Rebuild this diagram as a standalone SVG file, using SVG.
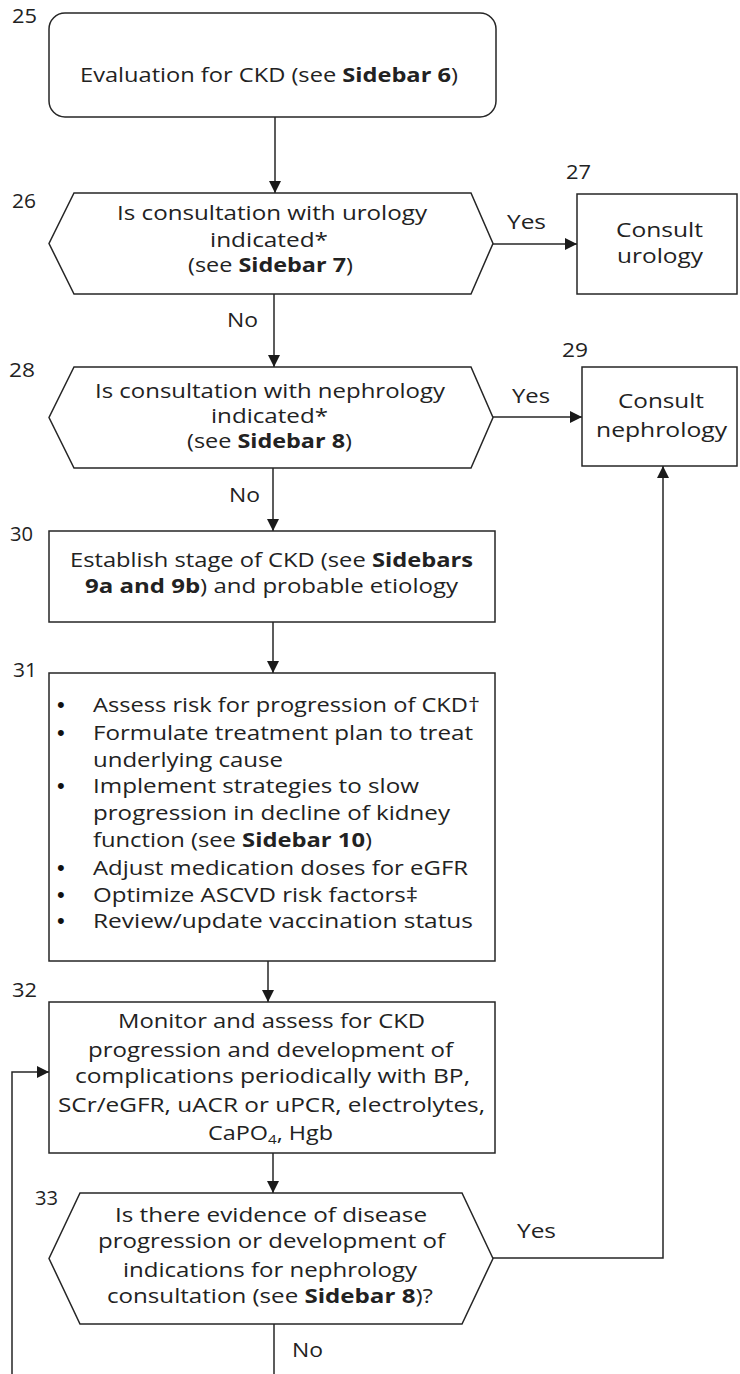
<svg xmlns="http://www.w3.org/2000/svg" width="740" height="1374" viewBox="0 0 740 1374">
<style>
.shape{fill:#fff;stroke:#262626;stroke-width:1.5}
.conn{fill:none;stroke:#262626;stroke-width:1.5}
.t{font-family:"Open Sans","Liberation Sans",sans-serif;font-size:20px;fill:#222}
.b{font-weight:bold}
.bul{font-family:"Liberation Sans",sans-serif;font-size:22px;fill:#111}
</style>
<defs>
<marker id="ah" viewBox="0 0 12 12" markerWidth="12" markerHeight="12" refX="12" refY="6" orient="auto" markerUnits="userSpaceOnUse">
<path d="M0,0 L12,6 L0,12 z" fill="#1a1a1a"/>
</marker>
</defs>
<rect width="740" height="1374" fill="#fff"/>

<g id="connectors">
<line class="conn" x1="275" y1="117" x2="275" y2="193" marker-end="url(#ah)"/>
<line class="conn" x1="274" y1="294" x2="274" y2="367" marker-end="url(#ah)"/>
<line class="conn" x1="493" y1="244" x2="577" y2="244" marker-end="url(#ah)"/>
<line class="conn" x1="493" y1="417" x2="582" y2="417" marker-end="url(#ah)"/>
<line class="conn" x1="273" y1="468" x2="273" y2="531" marker-end="url(#ah)"/>
<line class="conn" x1="273" y1="622" x2="273" y2="673" marker-end="url(#ah)"/>
<line class="conn" x1="268" y1="961" x2="268" y2="1002" marker-end="url(#ah)"/>
<line class="conn" x1="273" y1="1153" x2="273" y2="1193" marker-end="url(#ah)"/>
<polyline class="conn" points="493,1258 663,1258 663,466" marker-end="url(#ah)"/>
<line class="conn" x1="274" y1="1324" x2="274" y2="1374"/>
<polyline class="conn" points="12,1374 12,1072 49,1072" marker-end="url(#ah)"/>
<text class="t" x="507" y="229" textLength="39" lengthAdjust="spacingAndGlyphs">Yes</text>
<text class="t" x="512" y="403" textLength="38" lengthAdjust="spacingAndGlyphs">Yes</text>
<text class="t" x="517" y="1238" textLength="39" lengthAdjust="spacingAndGlyphs">Yes</text>
<text class="t" x="227" y="327" textLength="31" lengthAdjust="spacingAndGlyphs">No</text>
<text class="t" x="229" y="502" textLength="31" lengthAdjust="spacingAndGlyphs">No</text>
<text class="t" x="292" y="1357" textLength="31" lengthAdjust="spacingAndGlyphs">No</text>
</g>

<g id="node25">
<rect class="shape" x="49" y="13" width="447" height="104" rx="16" ry="16"/>
<text class="t" x="12" y="23" textLength="25" lengthAdjust="spacingAndGlyphs">25</text>
<text class="t" x="80" y="82" textLength="378" lengthAdjust="spacingAndGlyphs">Evaluation for CKD (see <tspan class="b">Sidebar 6</tspan>)</text>
</g>

<g id="node26">
<polygon class="shape" points="74,193 471,193 493,243.5 471,294 74,294 49,243.5"/>
<text class="t" x="12" y="208" textLength="24" lengthAdjust="spacingAndGlyphs">26</text>
<text class="t" x="117" y="220" textLength="310" lengthAdjust="spacingAndGlyphs">Is consultation with urology</text>
<text class="t" x="210" y="247" textLength="118" lengthAdjust="spacingAndGlyphs">indicated*</text>
<text class="t" x="188" y="272" textLength="165" lengthAdjust="spacingAndGlyphs">(see <tspan class="b">Sidebar 7</tspan>)</text>
</g>

<g id="node27">
<rect class="shape" x="577" y="194" width="160" height="100"/>
<text class="t" x="566" y="179" textLength="25" lengthAdjust="spacingAndGlyphs">27</text>
<text class="t" x="616" y="237" textLength="87" lengthAdjust="spacingAndGlyphs">Consult</text>
<text class="t" x="617" y="263" textLength="86" lengthAdjust="spacingAndGlyphs">urology</text>
</g>

<g id="node28">
<polygon class="shape" points="74,367 471,367 493,417.5 471,468 74,468 49,417.5"/>
<text class="t" x="9" y="377" textLength="26" lengthAdjust="spacingAndGlyphs">28</text>
<text class="t" x="95" y="398" textLength="350" lengthAdjust="spacingAndGlyphs">Is consultation with nephrology</text>
<text class="t" x="211" y="423" textLength="117" lengthAdjust="spacingAndGlyphs">indicated*</text>
<text class="t" x="187" y="448" textLength="165" lengthAdjust="spacingAndGlyphs">(see <tspan class="b">Sidebar 8</tspan>)</text>
</g>

<g id="node29">
<rect class="shape" x="582" y="367" width="155" height="99"/>
<text class="t" x="562" y="357" textLength="26" lengthAdjust="spacingAndGlyphs">29</text>
<text class="t" x="618" y="408" textLength="86" lengthAdjust="spacingAndGlyphs">Consult</text>
<text class="t" x="596" y="437" textLength="131" lengthAdjust="spacingAndGlyphs">nephrology</text>
</g>

<g id="node30">
<rect class="shape" x="49" y="531" width="446" height="91"/>
<text class="t" x="10" y="541" textLength="23" lengthAdjust="spacingAndGlyphs">30</text>
<text class="t" x="70" y="567" textLength="403" lengthAdjust="spacingAndGlyphs">Establish stage of CKD (see <tspan class="b">Sidebars</tspan></text>
<text class="t" x="85" y="593" textLength="373" lengthAdjust="spacingAndGlyphs"><tspan class="b">9a and 9b</tspan>) and probable etiology</text>
</g>

<g id="node31">
<rect class="shape" x="49" y="673" width="446" height="288"/>
<text class="t" x="13" y="677" textLength="24" lengthAdjust="spacingAndGlyphs">31</text>
<text class="bul" x="57" y="712">•</text>
<text class="t" x="93" y="712" textLength="387" lengthAdjust="spacingAndGlyphs">Assess risk for progression of CKD†</text>
<text class="bul" x="57" y="740">•</text>
<text class="t" x="93" y="740" textLength="380" lengthAdjust="spacingAndGlyphs">Formulate treatment plan to treat</text>
<text class="t" x="93" y="767" textLength="190" lengthAdjust="spacingAndGlyphs">underlying cause</text>
<text class="bul" x="57" y="793">•</text>
<text class="t" x="93" y="793" textLength="326" lengthAdjust="spacingAndGlyphs">Implement strategies to slow</text>
<text class="t" x="93" y="820" textLength="357" lengthAdjust="spacingAndGlyphs">progression in decline of kidney</text>
<text class="t" x="93" y="847" textLength="279" lengthAdjust="spacingAndGlyphs">function (see <tspan class="b">Sidebar 10</tspan>)</text>
<text class="bul" x="57" y="875">•</text>
<text class="t" x="93" y="875" textLength="375" lengthAdjust="spacingAndGlyphs">Adjust medication doses for eGFR</text>
<text class="bul" x="57" y="902">•</text>
<text class="t" x="93" y="902" textLength="325" lengthAdjust="spacingAndGlyphs">Optimize ASCVD risk factors‡</text>
<text class="bul" x="57" y="928">•</text>
<text class="t" x="93" y="928" textLength="380" lengthAdjust="spacingAndGlyphs">Review/update vaccination status</text>
</g>

<g id="node32">
<rect class="shape" x="49" y="1002" width="446" height="151"/>
<text class="t" x="12" y="997" textLength="25" lengthAdjust="spacingAndGlyphs">32</text>
<text class="t" x="118" y="1028" textLength="307" lengthAdjust="spacingAndGlyphs">Monitor and assess for CKD</text>
<text class="t" x="88" y="1057" textLength="365" lengthAdjust="spacingAndGlyphs">progression and development of</text>
<text class="t" x="75" y="1083" textLength="395" lengthAdjust="spacingAndGlyphs">complications periodically with BP,</text>
<text class="t" x="58" y="1112" textLength="427" lengthAdjust="spacingAndGlyphs">SCr/eGFR, uACR or uPCR, electrolytes,</text>
<text class="t" x="208" y="1140" textLength="125" lengthAdjust="spacingAndGlyphs">CaPO<tspan font-size="13" dy="4">4</tspan><tspan dy="-4">, Hgb</tspan></text>
</g>

<g id="node33">
<polygon class="shape" points="80,1193 462,1193 493,1258.5 462,1324 80,1324 49,1258.5"/>
<text class="t" x="35" y="1205" textLength="23" lengthAdjust="spacingAndGlyphs">33</text>
<text class="t" x="115" y="1222" textLength="312" lengthAdjust="spacingAndGlyphs">Is there evidence of disease</text>
<text class="t" x="98" y="1248" textLength="347" lengthAdjust="spacingAndGlyphs">progression or development of</text>
<text class="t" x="123" y="1277" textLength="294" lengthAdjust="spacingAndGlyphs">indications for nephrology</text>
<text class="t" x="107" y="1303" textLength="326" lengthAdjust="spacingAndGlyphs">consultation (see <tspan class="b">Sidebar 8</tspan>)?</text>
</g>
</svg>
